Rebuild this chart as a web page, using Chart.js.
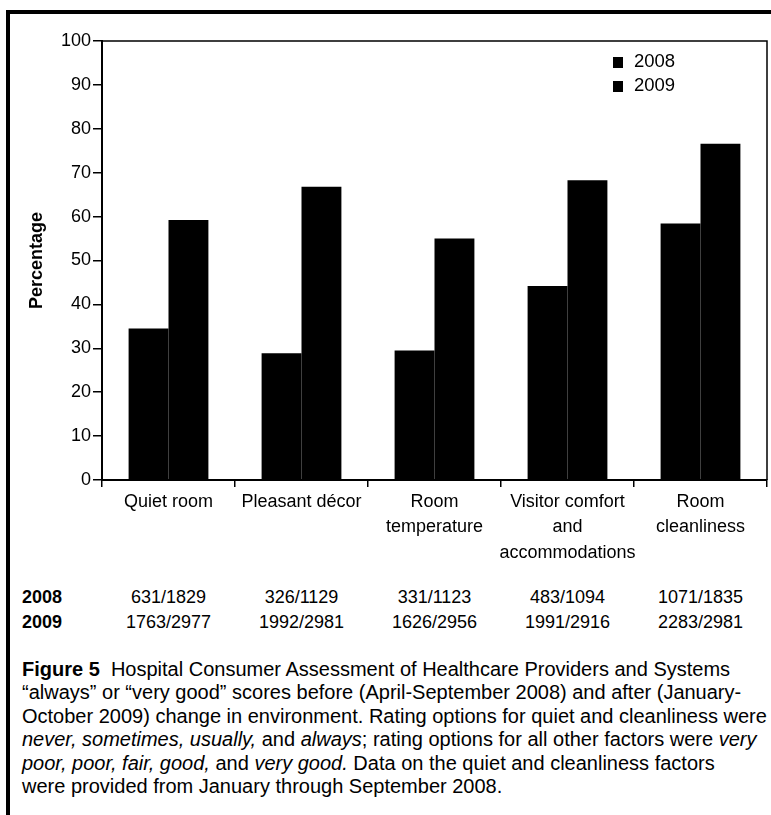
<!DOCTYPE html>
<html>
<head>
<meta charset="utf-8">
<script src="https://cdn.jsdelivr.net/npm/chart.js@4.4.0/dist/chart.umd.min.js"></script>
<style>
  body { margin: 0; background: #fff; font-family: 'Liberation Sans', Arial, sans-serif; color: #000; }
  #page { position: relative; width: 771px; height: 815px; overflow: hidden; }
  #frame { position: absolute; left: 6px; top: 10px; width: 800px; height: 900px;
           border-top: 4px solid #000; border-left: 4px solid #000; }
  #chart { position: absolute; left: 0; top: 0; }
  #counts { position: absolute; top: 585px; left: 0; font-size: 18px; line-height: 25px; }
  #counts .row { position: relative; height: 25px; }
  #counts .yr { position: absolute; left: 22px; font-weight: bold; }
  #counts .val { position: absolute; width: 133px; text-align: center; }
  #caption { position: absolute; left: 22px; top: 658px; font-size: 20px; line-height: 23.4px; white-space: nowrap; }
</style>
</head>
<body>
<div id="page">
  <div id="frame"></div>
  <canvas id="chart" width="771" height="570"></canvas>
  <div id="counts"></div>
  <div id="caption">
    <div><b>Figure 5</b>&nbsp; Hospital Consumer Assessment of Healthcare Providers and Systems</div>
    <div>“always” or “very good” scores before (April-September 2008) and after (January-</div>
    <div>October 2009) change in environment. Rating options for quiet and cleanliness were</div>
    <div><i>never, sometimes, usually,</i> and <i>always</i>; rating options for all other factors were <i>very</i></div>
    <div><i>poor, poor, fair, good,</i> and <i>very good.</i> Data on the quiet and cleanliness factors</div>
    <div>were provided from January through September 2008.</div>
  </div>
</div>
<script>
// categories and values (percent)
const categories = [
    ['Quiet room'],
    ['Pleasant décor'],
    ['Room', 'temperature'],
    ['Visitor comfort', 'and', 'accommodations'],
    ['Room', 'cleanliness']
];
const pct2008 = [34.5, 28.9, 29.5, 44.2, 58.4];
const pct2009 = [59.2, 66.8, 55.0, 68.3, 76.6];
const seriesLabels = ['2008', '2009'];
const counts2008 = ['631/1829', '326/1129', '331/1123', '483/1094', '1071/1835'];
const counts2009 = ['1763/2977', '1992/2981', '1626/2956', '1991/2916', '2283/2981'];

Chart.defaults.font.family = "'Liberation Sans', Arial, sans-serif";
Chart.defaults.color = '#000';

// box around the plot area (top and right edges)
const framePlugin = {
    id: 'frame',
    afterDatasetsDraw(chart) {
        const a = chart.chartArea;
        const c = chart.ctx;
        c.save();
        c.strokeStyle = '#000';
        c.lineWidth = 1.5;
        c.beginPath();
        c.moveTo(a.left, a.top);
        c.lineTo(a.right, a.top);
        c.lineTo(a.right, a.bottom);
        c.stroke();
        c.restore();
    }
};

// vertical legend inside the plot, top right
const legendPlugin = {
    id: 'innerLegend',
    afterDraw(chart) {
        const a = chart.chartArea;
        const c = chart.ctx;
        const x0 = a.right - 154;
        const y0 = a.top + 21;
        c.save();
        c.font = "18.5px 'Liberation Sans', Arial, sans-serif";
        c.textBaseline = 'middle';
        chart.data.datasets.forEach(function(ds, i) {
            const y = y0 + i * 24;
            c.fillStyle = ds.backgroundColor;
            c.fillRect(x0, y - 5, 10, 11);
            c.fillStyle = '#000';
            c.fillText(ds.label, x0 + 21, y);
        });
        c.restore();
    }
};

const ctx = document.getElementById('chart');
const chart = new Chart(ctx, {
    type: 'bar',
    data: {
        labels: categories,
        datasets: [
            { label: seriesLabels[0], data: pct2008, backgroundColor: '#000' },
            { label: seriesLabels[1], data: pct2009, backgroundColor: '#000' }
        ]
    },
    options: {
        responsive: false,
        animation: false,
        layout: { padding: { top: 41, right: 4, left: 0, bottom: 0 } },
        datasets: { bar: { barPercentage: 1, categoryPercentage: 0.6 } },
        plugins: {
            legend: { display: false },
            tooltip: { enabled: false }
        },
        scales: {
            x: {
                grid: { drawOnChartArea: false, tickLength: 7, color: '#000', lineWidth: 1.5 },
                border: { color: '#000', width: 2 },
                ticks: { font: { size: 18, lineHeight: 1.39 }, padding: 3, maxRotation: 0, autoSkip: false },
                afterFit(scale) { scale.height = 90; }
            },
            y: {
                min: 0,
                max: 100,
                ticks: { stepSize: 10, font: { size: 18 }, padding: 2 },
                grid: { drawOnChartArea: false, tickLength: 9, color: '#000', lineWidth: 1.5 },
                border: { color: '#000', width: 2 },
                title: {
                    display: true,
                    text: 'Percentage',
                    font: { size: 18, weight: 'bold' },
                    padding: { top: 26, bottom: 0 }
                },
                afterFit(scale) { scale.width = 102; }
            }
        }
    },
    plugins: [framePlugin, legendPlugin]
});

// sample-size rows under the chart, centred on each category
const countsBox = document.getElementById('counts');
[[seriesLabels[0], counts2008], [seriesLabels[1], counts2009]].forEach(function(row) {
    const div = document.createElement('div');
    div.className = 'row';
    const yr = document.createElement('span');
    yr.className = 'yr';
    yr.textContent = row[0];
    div.appendChild(yr);
    row[1].forEach(function(v, i) {
        const s = document.createElement('span');
        s.className = 'val';
        s.textContent = v;
        s.style.left = (chart.scales.x.getPixelForTick(i) - 66.5) + 'px';
        div.appendChild(s);
    });
    countsBox.appendChild(div);
});
</script>
</body>
</html>
